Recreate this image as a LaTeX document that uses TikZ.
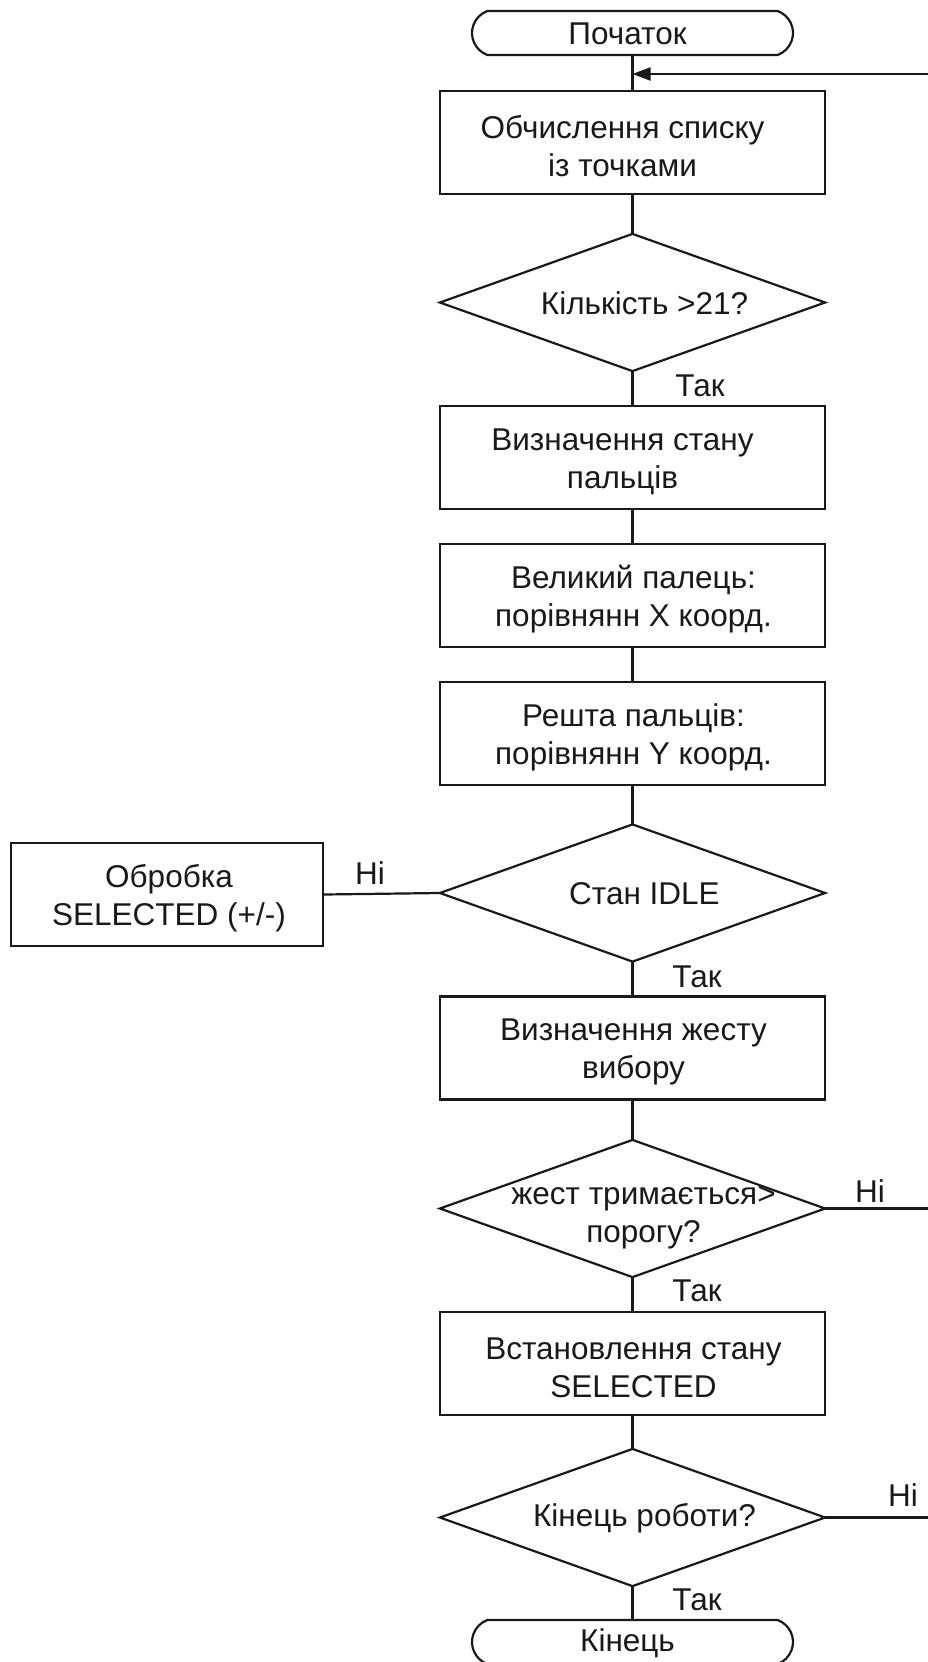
\documentclass[tikz,border=0pt]{standalone}
\usepackage{fontspec}
\setmainfont{Liberation Sans}
\usetikzlibrary{shapes.misc,arrows.meta}
\definecolor{ink}{RGB}{25,25,25}
\begin{document}
\begin{tikzpicture}[x=1pt,y=-1pt,line width=2.2pt,color=ink,
  every node/.style={font=\fontsize{31.5}{38}\selectfont},
  box/.style={draw,rectangle,minimum width=385pt,minimum height=103pt,inner sep=0pt},
  sidebox/.style={draw,rectangle,minimum width=312pt,minimum height=103pt,inner sep=0pt},
  term/.style={draw,rounded rectangle,rounded rectangle arc length=140,minimum width=321pt,minimum height=44pt,inner sep=0pt},
  dec/.style={rectangle,minimum width=383pt,minimum height=135pt,inner sep=0pt},
  txt/.style={align=center,inner sep=0pt},
  lbl/.style={inner sep=0pt},
  arr/.style={-{Triangle[length=18pt,width=13pt]}}]
\useasboundingbox (0,0) rectangle (928,1662);
\fill[white] (0,0) rectangle (928,1662);

% terminals
\node[term] (start) at (632.5,33) {};
\node[txt] (startt) at ([xshift=-5pt,yshift=-1pt]start.center) {Початок};
\node[term] (end) at (632.5,1642) {};
\node[txt] (endt) at ([xshift=-5pt,yshift=-1pt]end.center) {Кінець};

% process boxes
\node[box] (b1) at (632.5,142.5) {};
\node[txt] (b1t) at ([xshift=-10pt,yshift=-4pt]b1.center) {Обчислення списку\\із точками};
\node[box] (b2) at (632.5,457.5) {};
\node[txt] (b2t) at ([xshift=-10pt,yshift=-4pt]b2.center) {Визначення стану\\пальців};
\node[box] (b3) at (632.5,595.5) {};
\node[txt] (b3t) at ([xshift=1pt,yshift=-4pt]b3.center) {Великий палець:\\порівнянн X коорд.};
\node[box] (b4) at (632.5,733.5) {};
\node[txt] (b4t) at ([xshift=1pt,yshift=-4pt]b4.center) {Решта пальців:\\порівнянн Y коорд.};
\node[box] (b5) at (632.5,1048) {};
\node[txt] (b5t) at ([xshift=1pt,yshift=-4pt]b5.center) {Визначення жесту\\вибору};
\node[box] (b6) at (632.5,1363.5) {};
\node[txt] (b6t) at ([xshift=1pt,yshift=-4pt]b6.center) {Встановлення стану\\SELECTED};
\node[sidebox] (side) at (167,894.5) {};
\node[txt] (sidet) at ([xshift=2pt,yshift=-4pt]side.center) {Обробка\\SELECTED (+/-)};

% decisions
\node[dec] (d1) at (632.5,302.5) {};
\node[txt] (d1t) at ([xshift=12pt,yshift=-1pt]d1.center) {Кількість >21?};
\node[dec] (d2) at (632.5,893) {};
\node[txt] (d2t) at ([xshift=12pt,yshift=-1pt]d2.center) {Стан IDLE};
\node[dec] (d3) at (632.5,1208.5) {};
\node[txt] (d3t) at ([xshift=11pt,yshift=-9pt]d3.center) {жест тримається>\\порогу?};
\node[dec] (d4) at (632.5,1517.5) {};
\node[txt] (d4t) at ([xshift=12pt,yshift=-1pt]d4.center) {Кінець роботи?};
\foreach \d in {d1,d2,d3,d4}
  \draw (\d.north) -- (\d.east) -- (\d.south) -- (\d.west) -- cycle;

% labels
\node[lbl] (y1) at (700,386) {Так};
\node[lbl] (y2) at (697,977) {Так};
\node[lbl] (y3) at (697,1291) {Так};
\node[lbl] (y4) at (697,1600) {Так};
\node[lbl] (n1) at (370,873) {Ні};
\node[lbl] (n2) at (870,1191) {Ні};
\node[lbl] (n3) at (903,1495) {Ні};

% connectors
\coordinate (ret) at (928,74);
\coordinate (join) at (632.5,74);
\coordinate (out3) at (928,1208.5);
\coordinate (out4) at (928,1517.5);
\draw (start.south) -- (b1.north);
\draw[arr] (ret) -- (join);
\draw (b1.south) -- (d1.north);
\draw (d1.south) -- (b2.north);
\draw (b2.south) -- (b3.north);
\draw (b3.south) -- (b4.north);
\draw (b4.south) -- (d2.north);
\draw (d2.south) -- (b5.north);
\draw (d2.west) -- (side.east);
\draw (b5.south) -- (d3.north);
\draw (d3.south) -- (b6.north);
\draw (d3.east) -- (out3);
\draw (b6.south) -- (d4.north);
\draw (d4.south) -- (end.north);
\draw (d4.east) -- (out4);
\end{tikzpicture}
\end{document}
